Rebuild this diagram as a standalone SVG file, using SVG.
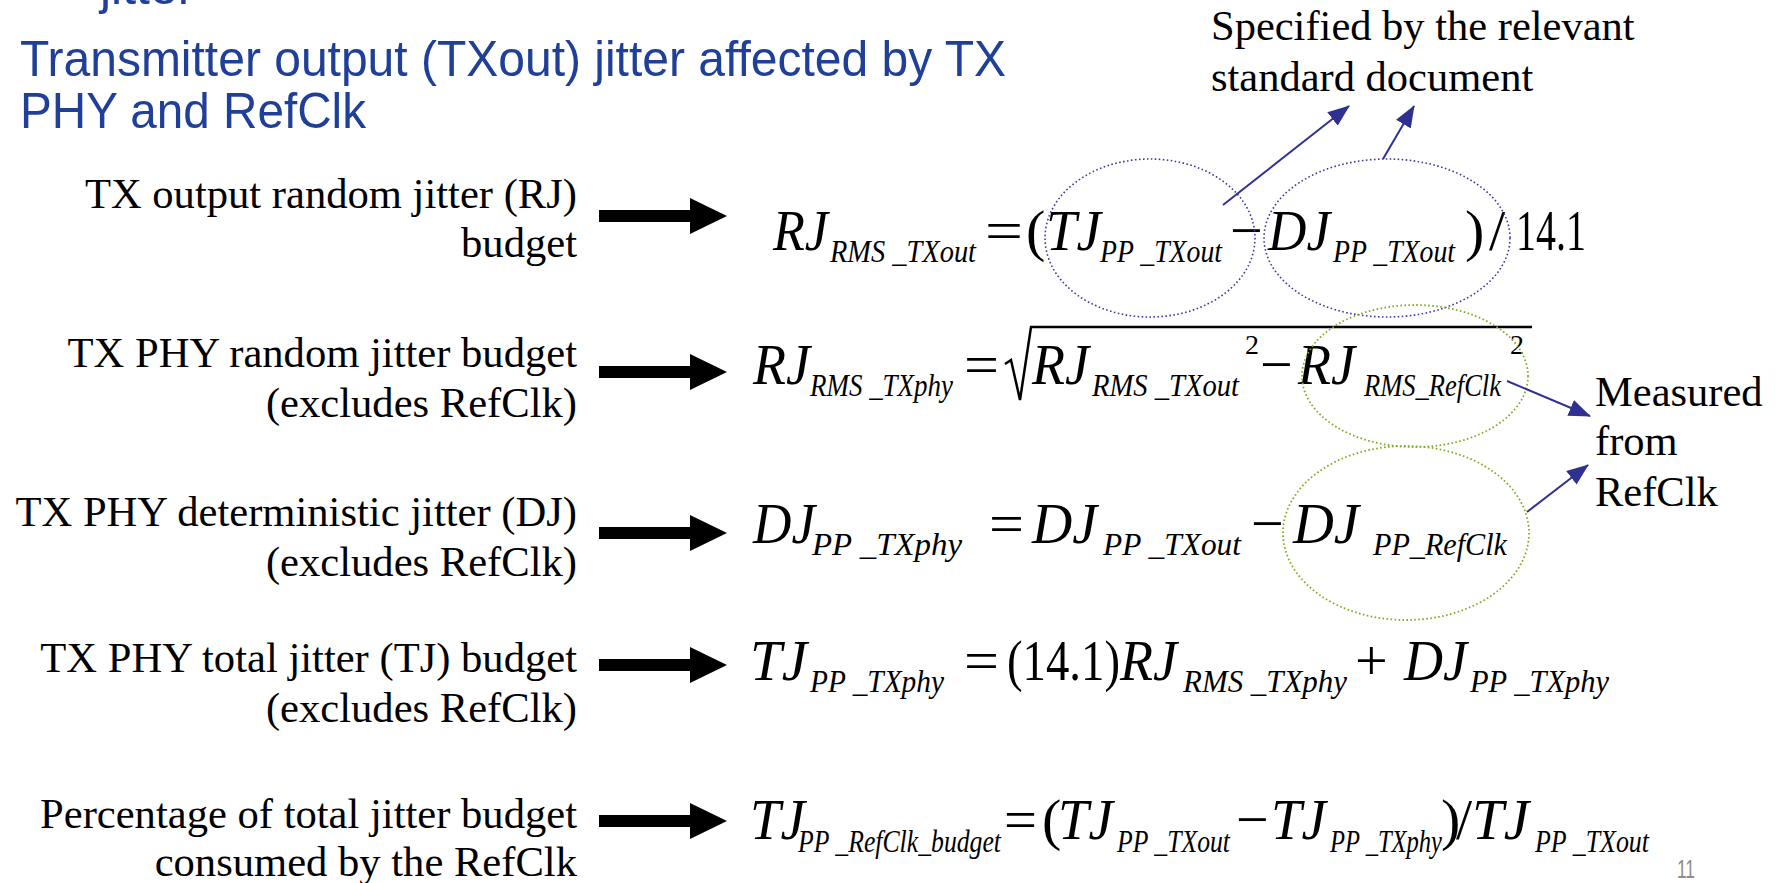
<svg xmlns="http://www.w3.org/2000/svg" width="1783" height="883" viewBox="0 0 1783 883">
  <style>
    .title { font-family: "Liberation Sans", Arial, sans-serif; font-size: 50px; fill: #1f3f99; }
    .label { font-family: "Liberation Serif", "Times New Roman", serif; font-size: 42.6px; fill: #000; text-anchor: end; }
    .note { font-family: "Liberation Serif", "Times New Roman", serif; font-size: 42.5px; fill: #000; }
    .v { font-family: "Liberation Serif", "Times New Roman", serif; font-style: italic; font-size: 58px; fill: #000; }
    .s { font-family: "Liberation Serif", "Times New Roman", serif; font-style: italic; font-size: 31px; fill: #000; }
    .n { font-family: "Liberation Serif", "Times New Roman", serif; font-size: 58px; fill: #000; }
    .sup { font-family: "Liberation Serif", "Times New Roman", serif; font-size: 28px; fill: #000; }
    .blue-ring { fill: none; stroke: #3a3aa8; stroke-width: 1.6; stroke-dasharray: 1.6 2.4; }
    .green-ring { fill: none; stroke: #7fae1f; stroke-width: 1.8; stroke-dasharray: 1.6 2.4; }
    .pointer { fill: none; stroke: #2e3192; stroke-width: 2; marker-end: url(#tip); }
    .page { font-family: "Liberation Sans", Arial, sans-serif; font-size: 25px; fill: #8c8c8c; }
  </style>
  <defs>
    <marker id="tip" markerWidth="22" markerHeight="17" refX="21" refY="8.5" orient="auto" markerUnits="userSpaceOnUse" viewBox="0 0 22 17">
      <path d="M0,0 L22,8.5 L0,17 Z" fill="#2e3192"/>
    </marker>
    <path id="block-arrow" d="M0,-6 H91 V-18 L128,0 L91,18 V6 H0 Z" fill="#000"/>
  </defs>

  <rect width="1783" height="883" fill="#fff"/>

  <!-- heading -->
  <g id="heading">
    <text class="title" x="100" y="4" font-size="41">jitter</text>
    <text class="title" x="20" y="76" textLength="986" lengthAdjust="spacingAndGlyphs">Transmitter output (TXout) jitter affected by TX</text>
    <text class="title" x="20" y="128" textLength="346" lengthAdjust="spacingAndGlyphs">PHY and RefClk</text>
  </g>

  <!-- row 1: TX output RJ budget -->
  <g id="row-rj-txout">
    <text class="label" x="577" y="208">TX output random jitter (RJ)</text>
    <text class="label" x="577" y="257">budget</text>
  </g>
  <g id="eq-rj-txout">
    <text class="v" x="773" y="250" textLength="55" lengthAdjust="spacingAndGlyphs">RJ</text>
    <text class="s" x="830" y="262" textLength="146" lengthAdjust="spacingAndGlyphs">RMS _TXout</text>
    <text class="n" x="985" y="250" textLength="38" lengthAdjust="spacingAndGlyphs">=</text>
    <text class="n" x="1026" y="250">(</text>
    <text class="v" x="1046" y="250" textLength="55" lengthAdjust="spacingAndGlyphs">TJ</text>
    <text class="s" x="1100" y="262" textLength="122" lengthAdjust="spacingAndGlyphs">PP _TXout</text>
    <text class="n" x="1230" y="250">−</text>
    <text class="v" x="1268" y="250" textLength="62" lengthAdjust="spacingAndGlyphs">DJ</text>
    <text class="s" x="1333" y="262" textLength="122" lengthAdjust="spacingAndGlyphs">PP _TXout</text>
    <text class="n" x="1465" y="250">)</text>
    <text class="n" x="1489" y="250">/</text>
    <text class="n" x="1516" y="250" textLength="70" lengthAdjust="spacingAndGlyphs">14.1</text>
  </g>

  <!-- row 2: TX PHY RJ budget -->
  <g id="row-rj-txphy">
    <text class="label" x="577" y="367">TX PHY random jitter budget</text>
    <text class="label" x="577" y="417">(excludes RefClk)</text>
  </g>
  <g id="eq-rj-txphy">
    <text class="v" x="753" y="384" textLength="57" lengthAdjust="spacingAndGlyphs">RJ</text>
    <text class="s" x="810" y="396" textLength="143" lengthAdjust="spacingAndGlyphs">RMS _TXphy</text>
    <text class="n" x="964" y="384" textLength="35" lengthAdjust="spacingAndGlyphs">=</text>
    <path d="M1005,364 L1011,360 L1020,400 L1031,327 H1532" fill="none" stroke="#000" stroke-width="2.5"/>
    <text class="v" x="1032" y="384" textLength="57" lengthAdjust="spacingAndGlyphs">RJ</text>
    <text class="s" x="1092" y="396" textLength="147" lengthAdjust="spacingAndGlyphs">RMS _TXout</text>
    <text class="sup" x="1245" y="354">2</text>
    <text class="n" x="1260" y="384">−</text>
    <text class="v" x="1298" y="384" textLength="57" lengthAdjust="spacingAndGlyphs">RJ</text>
    <text class="s" x="1364" y="396" textLength="137" lengthAdjust="spacingAndGlyphs">RMS_RefClk</text>
    <text class="sup" x="1510" y="354">2</text>
  </g>

  <!-- row 3: TX PHY DJ -->
  <g id="row-dj-txphy">
    <text class="label" x="577" y="526">TX PHY deterministic jitter (DJ)</text>
    <text class="label" x="577" y="576">(excludes RefClk)</text>
  </g>
  <g id="eq-dj-txphy">
    <text class="v" x="753" y="543" textLength="62" lengthAdjust="spacingAndGlyphs">DJ</text>
    <text class="s" x="812" y="555" textLength="150" lengthAdjust="spacingAndGlyphs">PP _TXphy</text>
    <text class="n" x="989" y="543" textLength="35" lengthAdjust="spacingAndGlyphs">=</text>
    <text class="v" x="1032" y="543" textLength="65" lengthAdjust="spacingAndGlyphs">DJ</text>
    <text class="s" x="1103" y="555" textLength="138" lengthAdjust="spacingAndGlyphs">PP _TXout</text>
    <text class="n" x="1251" y="543">−</text>
    <text class="v" x="1293" y="543" textLength="66" lengthAdjust="spacingAndGlyphs">DJ</text>
    <text class="s" x="1373" y="555" textLength="134" lengthAdjust="spacingAndGlyphs">PP_RefClk</text>
  </g>

  <!-- row 4: TX PHY TJ budget -->
  <g id="row-tj-txphy">
    <text class="label" x="577" y="672">TX PHY total jitter (TJ) budget</text>
    <text class="label" x="577" y="722">(excludes RefClk)</text>
  </g>
  <g id="eq-tj-txphy">
    <text class="v" x="750" y="680" textLength="57" lengthAdjust="spacingAndGlyphs">TJ</text>
    <text class="s" x="810" y="692" textLength="134" lengthAdjust="spacingAndGlyphs">PP _TXphy</text>
    <text class="n" x="964" y="680" textLength="35" lengthAdjust="spacingAndGlyphs">=</text>
    <text class="n" x="1007" y="680" textLength="113" lengthAdjust="spacingAndGlyphs">(14.1)</text>
    <text class="v" x="1120" y="680" textLength="57" lengthAdjust="spacingAndGlyphs">RJ</text>
    <text class="s" x="1183" y="692" textLength="164" lengthAdjust="spacingAndGlyphs">RMS _TXphy</text>
    <text class="n" x="1355" y="680">+</text>
    <text class="v" x="1404" y="680" textLength="63" lengthAdjust="spacingAndGlyphs">DJ</text>
    <text class="s" x="1470" y="692" textLength="139" lengthAdjust="spacingAndGlyphs">PP _TXphy</text>
  </g>

  <!-- row 5: RefClk share of the TJ budget -->
  <g id="row-refclk-share">
    <text class="label" x="577" y="828">Percentage of total jitter budget</text>
    <text class="label" x="577" y="876">consumed by the RefClk</text>
  </g>
  <g id="eq-refclk-share">
    <text class="v" x="750" y="839" textLength="55" lengthAdjust="spacingAndGlyphs">TJ</text>
    <text class="s" x="798" y="852" textLength="203" lengthAdjust="spacingAndGlyphs">PP _RefClk_budget</text>
    <text class="n" x="1004" y="839" textLength="33" lengthAdjust="spacingAndGlyphs">=</text>
    <text class="n" x="1042" y="839">(</text>
    <text class="v" x="1058" y="839" textLength="55" lengthAdjust="spacingAndGlyphs">TJ</text>
    <text class="s" x="1117" y="852" textLength="113" lengthAdjust="spacingAndGlyphs">PP _TXout</text>
    <text class="n" x="1236" y="839">−</text>
    <text class="v" x="1271" y="839" textLength="55" lengthAdjust="spacingAndGlyphs">TJ</text>
    <text class="s" x="1330" y="852" textLength="112" lengthAdjust="spacingAndGlyphs">PP _TXphy</text>
    <text class="n" x="1441" y="839">)</text>
    <text class="n" x="1456" y="839">/</text>
    <text class="v" x="1472" y="839" textLength="57" lengthAdjust="spacingAndGlyphs">TJ</text>
    <text class="s" x="1535" y="852" textLength="114" lengthAdjust="spacingAndGlyphs">PP _TXout</text>
  </g>

  <!-- callout notes -->
  <g id="note-standard">
    <text class="note" x="1211" y="40">Specified by the relevant</text>
    <text class="note" x="1211" y="91">standard document</text>
  </g>
  <g id="note-measured">
    <text class="note" x="1595" y="406">Measured</text>
    <text class="note" x="1595" y="455">from</text>
    <text class="note" x="1595" y="506">RefClk</text>
  </g>

  <!-- highlight rings -->
  <g id="rings">
    <ellipse class="blue-ring" cx="1150" cy="238" rx="105" ry="79"/>
    <ellipse class="blue-ring" cx="1387" cy="238" rx="123" ry="79"/>
    <ellipse class="green-ring" cx="1415" cy="376" rx="113" ry="71"/>
    <ellipse class="green-ring" cx="1406" cy="533" rx="123" ry="87"/>
  </g>

  <!-- connectors -->
  <g id="connectors">
    <use href="#block-arrow" x="599" y="216"/>
    <use href="#block-arrow" x="599" y="372"/>
    <use href="#block-arrow" x="599" y="533"/>
    <use href="#block-arrow" x="599" y="665"/>
    <use href="#block-arrow" x="599" y="821"/>
    <line class="pointer" x1="1223" y1="205" x2="1349" y2="106"/>
    <line class="pointer" x1="1383" y1="159" x2="1414" y2="106"/>
    <line class="pointer" x1="1507" y1="381" x2="1590" y2="416"/>
    <line class="pointer" x1="1527" y1="512" x2="1588" y2="465"/>
  </g>

  <text class="page" x="1677" y="878" textLength="18" lengthAdjust="spacingAndGlyphs">11</text>
</svg>
